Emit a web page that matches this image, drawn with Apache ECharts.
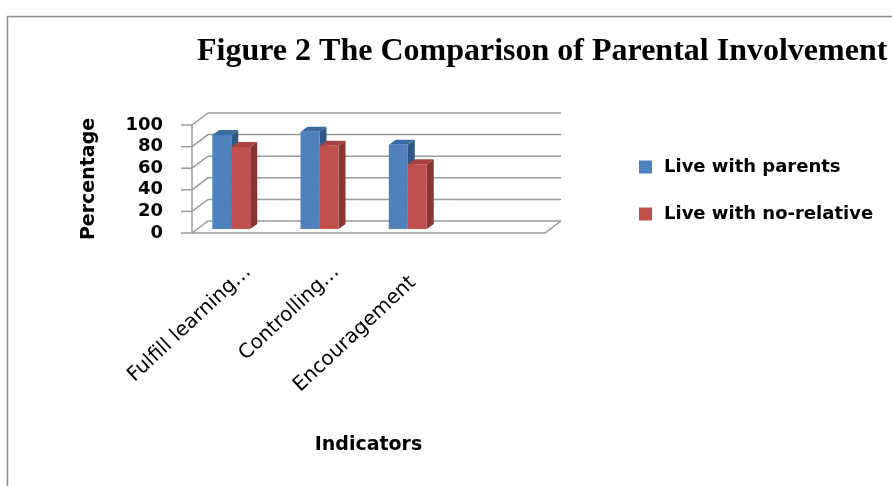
<!DOCTYPE html>
<html>
<head>
<meta charset="utf-8">
<script src="https://cdn.jsdelivr.net/npm/echarts@6/dist/echarts.min.js"></script>
<style>
html, body { margin: 0; padding: 0; background: #fff; }
#chart { width: 892px; height: 486px; }
</style>
</head>
<body>
<div id="chart"></div>
<script>
// data
var categories = ['Fulfill learning…', 'Controlling…', 'Encouragement', ''];
var seriesNames = ['Live with parents', 'Live with no-relative'];
var liveWithParents = [87, 90, 78];
var liveWithNoRelative = [76, 77, 60];
var yTicks = [0, 20, 40, 60, 80, 100];

var chart = echarts.init(document.getElementById('chart'));

// depth of the back wall and of the bars (fake 3d)
var WALL_DX = 16, WALL_DY = -12;
var BAR_DX = 7, BAR_DY = -5;
var BAR_LIFT = 4;

var faceColors = [
	{ front: '#4f81bd', top: '#3c6ba3', side: '#2f5886' },
	{ front: '#c0504d', top: '#a8423f', side: '#8a3432' }
];

function wallItem(params, api) {
	var v = api.value(1);
	var c = api.coord([0, v]);
	var bw = api.size([1, 0])[0];
	var x0 = c[0] - bw / 2;
	var xEnd = x0 + bw * categories.length;
	var y = c[1];
	var st = { stroke: '#9a9a9a', lineWidth: 1.5, fill: 'none' };
	var kids = [
		{ type: 'line', shape: { x1: x0 - 11, y1: y, x2: x0, y2: y }, style: st },
		{ type: 'polyline', shape: { points: [[x0, y], [x0 + WALL_DX, y + WALL_DY], [xEnd + WALL_DX, y + WALL_DY]] }, style: st }
	];
	if (v === 0) {
		var yTop = api.coord([0, yTicks[yTicks.length - 1]])[1];
		kids.push({ type: 'line', shape: { x1: x0, y1: yTop, x2: x0, y2: y }, style: st });
		kids.push({ type: 'polyline', shape: { points: [[x0, y], [xEnd, y], [xEnd + WALL_DX, y + WALL_DY]] }, style: st });
	}
	return { type: 'group', children: kids };
}

function barItem(idx) {
	return function(params, api) {
		var cat = api.value(0);
		var top = api.coord([cat, api.value(1)]);
		var base = api.coord([cat, 0]);
		var bw = api.size([1, 0])[0];
		var barW = bw * 0.215;
		var x0 = top[0] - bw * 0.27 + idx * barW;
		var x1 = x0 + barW;
		var yt = top[1] - BAR_LIFT;
		var yb = base[1] - BAR_LIFT;
		var col = faceColors[idx];
		return {
			type: 'group',
			children: [
				{ type: 'polygon', shape: { points: [[x1, yt], [x1 + BAR_DX, yt + BAR_DY], [x1 + BAR_DX, yb + BAR_DY], [x1, yb]] }, style: { fill: col.side } },
				{ type: 'polygon', shape: { points: [[x0, yt], [x0 + BAR_DX, yt + BAR_DY], [x1 + BAR_DX, yt + BAR_DY], [x1, yt]] }, style: { fill: col.top } },
				{ type: 'rect', shape: { x: x0, y: yt, width: barW, height: yb - yt }, style: { fill: col.front } }
			]
		};
	};
}

// label axis sits a little to the right of the plot, like the excel original
var labelData = categories.map(function(c) {
	return c === 'Encouragement' ? { value: c, textStyle: { padding: [0, 16, 0, 0] } } : c;
});

var option = {
	backgroundColor: '#fff',
	animation: false,
	title: {
		text: 'Figure 2 The Comparison of Parental Involvement',
		left: 197,
		top: 36,
		padding: 0,
		textStyle: {
			fontFamily: 'Liberation Serif',
			fontWeight: 'bold',
			fontSize: 32,
			color: '#000'
		}
	},
	legend: {
		orient: 'vertical',
		left: 639,
		top: 158,
		padding: 0,
		itemWidth: 13,
		itemHeight: 13,
		itemGap: 29,
		icon: 'rect',
		data: seriesNames,
		textStyle: {
			fontFamily: 'DejaVu Sans',
			fontWeight: 'bold',
			fontSize: 18,
			color: '#000',
			padding: [0, 0, 0, 7]
		}
	},
	graphic: [{
		type: 'rect',
		left: 5,
		top: 14,
		shape: { width: 1000, height: 1000 },
		style: { fill: 'none', stroke: '#8a8a8a', lineWidth: 1.5 },
		silent: true
	}],
	grid: [{
		left: 192,
		top: 125,
		width: 353,
		height: 108
	}, {
		left: 204,
		top: 125,
		width: 353,
		height: 108
	}],
	xAxis: [{
		type: 'category',
		data: categories,
		axisLine: { show: false },
		axisTick: { show: false },
		axisLabel: { show: false },
		name: 'Indicators',
		nameLocation: 'middle',
		nameGap: 203,
		nameTextStyle: {
			fontFamily: 'DejaVu Sans',
			fontWeight: 'bold',
			fontSize: 19,
			color: '#000'
		}
	}, {
		type: 'category',
		gridIndex: 1,
		data: labelData,
		axisLine: { show: false },
		axisTick: { show: false },
		axisLabel: {
			interval: 0,
			rotate: 43,
			margin: 36,
			fontFamily: 'DejaVu Sans',
			fontSize: 20,
			color: '#000'
		}
	}],
	yAxis: [{
		type: 'value',
		min: 0,
		max: 100,
		interval: 20,
		axisLine: { show: false },
		axisTick: { show: false },
		splitLine: { show: false },
		axisLabel: {
			margin: 29,
			fontFamily: 'DejaVu Sans',
			fontWeight: 'bold',
			fontSize: 18,
			color: '#000'
		},
		name: 'Percentage',
		nameLocation: 'middle',
		nameGap: 93,
		nameTextStyle: {
			fontFamily: 'DejaVu Sans',
			fontWeight: 'bold',
			fontSize: 19,
			color: '#000'
		}
	}, {
		type: 'value',
		gridIndex: 1,
		min: 0,
		max: 100,
		interval: 20,
		show: false
	}],
	series: [{
		name: 'wall',
		type: 'custom',
		silent: true,
		clip: false,
		renderItem: wallItem,
		data: yTicks.map(function(v) { return [0, v]; })
	}, {
		name: seriesNames[0],
		type: 'custom',
		clip: false,
		itemStyle: { color: faceColors[0].front },
		renderItem: barItem(0),
		data: liveWithParents.map(function(v, i) { return [i, v]; })
	}, {
		name: seriesNames[1],
		type: 'custom',
		clip: false,
		itemStyle: { color: faceColors[1].front },
		renderItem: barItem(1),
		data: liveWithNoRelative.map(function(v, i) { return [i, v]; })
	}]
};

chart.setOption(option);
</script>
</body>
</html>
